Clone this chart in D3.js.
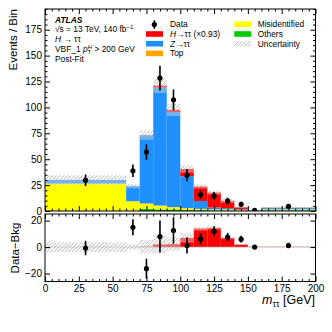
<!DOCTYPE html>
<html>
<head>
<meta charset="utf-8">
<script src="https://cdn.jsdelivr.net/npm/d3@7"></script>
<style>
body{margin:0;background:#fff;}
text{font-family:"Liberation Sans",Arial,sans-serif;fill:#000;}
</style>
</head>
<body>
<script>
//data
var edges = [0, 60, 70, 80, 90, 100, 110, 120, 130, 140, 150, 160, 200];
var others = [0, 0.3, 2, 1.5, 1.5, 1, 0.8, 0.6, 0.5, 0.3, 0.1, 0.6];
var misid = [26.5, 9, 5, 3.5, 2, 1.5, 1, 0.8, 0.8, 0.5, 0.1, 0.8];
var topq = [0, 0.2, 0.3, 0.3, 0.3, 0.3, 0.3, 0.3, 0.5, 0.3, 0.05, 0.3];
var ztt = [3.5, 14.5, 65.7, 113.7, 91.7, 30.8, 7.6, 1.6, 1, 0.6, 0.2, 1.5];
var htt = [0, 0, 0.3, 2, 2.2, 7, 14, 14.5, 7, 2, 0.2, 0.2];
var unc = [4.5, 2, 4.5, 7, 6, 3.5, 2, 2, 2, 1, 0.3, 0.8];
var dataX = [30, 65, 75, 85, 95, 105, 115, 125, 135, 145, 155, 180];
var dataY = [29.7, 38.8, 56.9, 128.3, 107.3, 34.6, 15.9, 14.5, 9.7, 6.5, 0.7, 4.5];
var dataErr = [5.5, 6, 7.5, 12, 10, 6, 4, 3.8, 3.1, 2.5, 0.8, 2.1];
var diffY = [-0.75, 15, -16.3, 8, 12.5, 1.2, 6.2, 12, 7.5, 6, 0, 1.2];
var diffUnc = [3.7, 2, 5, 7, 5, 3.5, 1.5, 1.2, 1, 0.5, 0.3, 0.5];
var xTicks = [0, 25, 50, 75, 100, 125, 150, 175, 200];
var yTicks = [0, 25, 50, 75, 100, 125, 150, 175];
var rTicks = [-20, 0, 20];

var keys = ["others", "misid", "top", "ztt", "htt"];
var colors = {others: "#00cc00", misid: "#ffff00", top: "#ffa500", ztt: "#1e90ff", htt: "#ff0000"};

var table = edges.slice(0, -1).map(function(e, i){
  return {lo: e, hi: edges[i+1], others: others[i], misid: misid[i], top: topq[i], ztt: ztt[i], htt: htt[i]};
});

var width = 332, height = 332;
var svg = d3.select("body").append("svg")
  .attr("width", width)
  .attr("height", height);

var L = 45, R = 315.5;
var x = d3.scaleLinear().domain([0, 200]).range([L, R]);
var y = d3.scaleLinear().domain([0, 195]).range([211, 9]);
var yr = d3.scaleLinear().domain([-26, 25]).range([281.5, 214]);

//hatch
var defs = svg.append("defs");
var pat = defs.append("pattern")
  .attr("id", "hatch")
  .attr("patternUnits", "userSpaceOnUse")
  .attr("width", 2.6).attr("height", 2.6)
  .attr("patternTransform", "rotate(45)");
pat.append("rect").attr("width", 2.6).attr("height", 2.6).attr("fill", "rgba(255,255,255,0.35)");
pat.append("line").attr("x1", 0).attr("y1", 0).attr("x2", 0).attr("y2", 2.6)
  .attr("stroke", "#9a9a9a").attr("stroke-width", 1.1);

var clipM = defs.append("clipPath").attr("id", "clipM");
clipM.append("rect").attr("x", L).attr("y", 9).attr("width", R - L).attr("height", 202);
var clipR = defs.append("clipPath").attr("id", "clipR");
clipR.append("rect").attr("x", L).attr("y", 214).attr("width", R - L).attr("height", 67.5);

//main stack
var stack = d3.stack().keys(keys)(table);
var gm = svg.append("g").attr("clip-path", "url(#clipM)");
gm.selectAll(".layer")
  .data(stack)
  .enter()
  .append("g")
  .attr("fill", function(d){ return colors[d.key]; })
  .selectAll("rect")
  .data(function(d){ return d; })
  .enter()
  .append("rect")
  .attr("x", function(d){ return x(d.data.lo); })
  .attr("width", function(d){ return x(d.data.hi) - x(d.data.lo); })
  .attr("y", function(d){ return y(d[1]); })
  .attr("height", function(d){ return Math.max(0, y(d[0]) - y(d[1])); });

gm.selectAll(".unc")
  .data(table)
  .enter()
  .append("rect")
  .attr("x", function(d){ return x(d.lo); })
  .attr("width", function(d){ return x(d.hi) - x(d.lo); })
  .attr("y", function(d, i){ return y(d.others + d.misid + d.top + d.ztt + d.htt + unc[i]); })
  .attr("height", function(d, i){ return y(0) - y(2 * unc[i]); })
  .attr("fill", "url(#hatch)");

//data points main
var pts = dataX.map(function(v, i){ return {x: v, y: dataY[i], e: dataErr[i]}; });
gm.selectAll(".err")
  .data(pts)
  .enter()
  .append("line")
  .attr("x1", function(d){ return x(d.x); })
  .attr("x2", function(d){ return x(d.x); })
  .attr("y1", function(d){ return y(d.y - d.e); })
  .attr("y2", function(d){ return y(d.y + d.e); })
  .attr("stroke", "#000").attr("stroke-width", 1.6);
gm.selectAll(".pt")
  .data(pts)
  .enter()
  .append("circle")
  .attr("cx", function(d){ return x(d.x); })
  .attr("cy", function(d){ return y(d.y); })
  .attr("r", 2.6)
  .attr("fill", "#000");

//ratio panel
var gr = svg.append("g").attr("clip-path", "url(#clipR)");
gr.selectAll(".sig")
  .data(table)
  .enter()
  .append("rect")
  .attr("x", function(d){ return x(d.lo); })
  .attr("width", function(d){ return x(d.hi) - x(d.lo); })
  .attr("y", function(d){ return yr(d.htt); })
  .attr("height", function(d){ return yr(0) - yr(d.htt); })
  .attr("fill", colors.htt);
gr.selectAll(".runc")
  .data(table)
  .enter()
  .append("rect")
  .attr("x", function(d){ return x(d.lo); })
  .attr("width", function(d){ return x(d.hi) - x(d.lo); })
  .attr("y", function(d, i){ return yr(d.htt + diffUnc[i]); })
  .attr("height", function(d, i){ return yr(0) - yr(2 * diffUnc[i]); })
  .attr("fill", "url(#hatch)");
gr.append("line")
  .attr("x1", L).attr("x2", R)
  .attr("y1", yr(0)).attr("y2", yr(0))
  .attr("stroke", "#bbb").attr("stroke-width", 0.6);

var rpts = dataX.map(function(v, i){ return {x: v, y: diffY[i], e: dataErr[i]}; });
gr.selectAll(".rerr")
  .data(rpts)
  .enter()
  .append("line")
  .attr("x1", function(d){ return x(d.x); })
  .attr("x2", function(d){ return x(d.x); })
  .attr("y1", function(d){ return yr(d.y - d.e); })
  .attr("y2", function(d){ return yr(d.y + d.e); })
  .attr("stroke", "#000").attr("stroke-width", 1.6);
gr.selectAll(".rpt")
  .data(rpts)
  .enter()
  .append("circle")
  .attr("cx", function(d){ return x(d.x); })
  .attr("cy", function(d){ return yr(d.y); })
  .attr("r", 2.6)
  .attr("fill", "#000");

//axes, ticks inside on all sides
var minorX = d3.range(0, 201, 5).filter(function(v){ return v % 25 != 0; });
var minorY = d3.range(0, 196, 5).filter(function(v){ return v % 25 != 0; });

function drawFrame(ys, top, bottom, majY, minY, showX, yfmt){
  var f = svg.append("g").attr("font-size", 9);
  f.append("g").attr("transform", "translate(0," + bottom + ")")
    .call(d3.axisBottom(x).tickValues(xTicks).tickSize(-5).tickPadding(3).tickFormat(showX ? d3.format("d") : ""));
  f.append("g").attr("transform", "translate(0," + bottom + ")")
    .call(d3.axisBottom(x).tickValues(minorX).tickSize(-2.5).tickFormat(""));
  f.append("g").attr("transform", "translate(0," + top + ")")
    .call(d3.axisTop(x).tickValues(xTicks).tickSize(-5).tickFormat(""));
  f.append("g").attr("transform", "translate(0," + top + ")")
    .call(d3.axisTop(x).tickValues(minorX).tickSize(-2.5).tickFormat(""));
  f.append("g").attr("transform", "translate(" + L + ",0)")
    .call(d3.axisLeft(ys).tickValues(majY).tickSize(-5).tickPadding(3).tickFormat(yfmt));
  f.append("g").attr("transform", "translate(" + R + ",0)")
    .call(d3.axisRight(ys).tickValues(majY).tickSize(-5).tickFormat(""));
  if (minY.length) {
    f.append("g").attr("transform", "translate(" + L + ",0)")
      .call(d3.axisLeft(ys).tickValues(minY).tickSize(-2.5).tickFormat(""));
    f.append("g").attr("transform", "translate(" + R + ",0)")
      .call(d3.axisRight(ys).tickValues(minY).tickSize(-2.5).tickFormat(""));
  }
  f.selectAll(".domain").remove();
  f.append("rect").attr("x", L).attr("y", top).attr("width", R - L).attr("height", bottom - top)
    .attr("fill", "none").attr("stroke", "#000").attr("stroke-width", 1);
  f.selectAll("text").attr("font-family", "Liberation Sans, Arial, sans-serif");
}
drawFrame(y, 9, 211, yTicks, minorY, false, d3.format("d"));
drawFrame(yr, 214, 281.5, rTicks, [], true, function(d){ return d < 0 ? "\u2212" + Math.abs(d) : d; });

//axis titles
svg.append("text")
  .attr("transform", "translate(17,9) rotate(-90)")
  .attr("text-anchor", "end")
  .attr("font-size", 11.5)
  .text("Events / Bin");
svg.append("text")
  .attr("transform", "translate(19,248) rotate(-90)")
  .attr("text-anchor", "middle")
  .attr("font-size", 11.5)
  .text("Data\u2212Bkg");
var xt = svg.append("text")
  .attr("x", 315).attr("y", 304)
  .attr("text-anchor", "end")
  .attr("font-size", 12.5);
xt.append("tspan").attr("font-style", "italic").text("m");
xt.append("tspan").attr("dy", 3).attr("font-size", 9).text("\u03c4\u03c4");
xt.append("tspan").attr("dy", -3).text(" [GeV]");

//ATLAS label
var info = svg.append("g").attr("font-size", 8.4);
info.append("text").attr("x", 55).attr("y", 22.5)
  .attr("font-weight", "bold").attr("font-style", "italic").text("ATLAS");
var l2 = info.append("text").attr("x", 55).attr("y", 32.3);
l2.append("tspan").text("\u221as = 13 TeV, 140 fb");
l2.append("tspan").attr("dy", -3).attr("font-size", 6).text("\u22121");
var l3 = info.append("text").attr("x", 55).attr("y", 42.3);
l3.append("tspan").attr("font-style", "italic").text("H");
l3.append("tspan").text(" \u2192 \u03c4\u03c4");
var l4 = info.append("text").attr("x", 55).attr("y", 52.3);
l4.append("tspan").text("VBF_1 ");
l4.append("tspan").attr("font-style", "italic").text("p");
l4.append("tspan").attr("dy", 1.8).attr("font-size", 6).text("T");
l4.append("tspan").attr("dy", -5).attr("dx", -3.5).attr("font-size", 6).attr("font-style", "italic").text("H");
l4.append("tspan").attr("dy", 3.2).text(" > 200 GeV");
info.append("text").attr("x", 55).attr("y", 62.3).text("Post-Fit");

//legend
var lg = svg.append("g").attr("font-size", 8.4);
var rowY = [27.3, 37, 46.7, 56.4];
lg.append("line").attr("x1", 154.3).attr("x2", 154.3).attr("y1", rowY[0] - 7).attr("y2", rowY[0] + 1.5)
  .attr("stroke", "#000").attr("stroke-width", 1.6);
lg.append("circle").attr("cx", 154.3).attr("cy", rowY[0] - 2.8).attr("r", 2.6).attr("fill", "#000");
lg.append("text").attr("x", 170).attr("y", rowY[0]).text("Data");

function swatch(sx, sy, fill){
  lg.append("rect").attr("x", sx).attr("y", sy - 5.8).attr("width", 17).attr("height", 5.6).attr("fill", fill);
}
swatch(146, rowY[1], colors.htt);
var t1 = lg.append("text").attr("x", 170).attr("y", rowY[1]);
t1.append("tspan").attr("font-style", "italic").text("H");
t1.append("tspan").text("\u2192\u03c4\u03c4 (\u00d70.93)");
swatch(146, rowY[2], colors.ztt);
var t2 = lg.append("text").attr("x", 170).attr("y", rowY[2]);
t2.append("tspan").attr("font-style", "italic").text("Z");
t2.append("tspan").text("\u2192\u03c4\u03c4");
swatch(146, rowY[3], colors.top);
lg.append("text").attr("x", 170).attr("y", rowY[3]).text("Top");

swatch(234.3, rowY[0], colors.misid);
lg.append("text").attr("x", 257.7).attr("y", rowY[0]).text("Misidentified");
swatch(234.3, rowY[1], colors.others);
lg.append("text").attr("x", 257.7).attr("y", rowY[1]).text("Others");
swatch(234.3, rowY[2], "url(#hatch)");
lg.append("text").attr("x", 257.7).attr("y", rowY[2]).text("Uncertainty");
</script>
</body>
</html>
